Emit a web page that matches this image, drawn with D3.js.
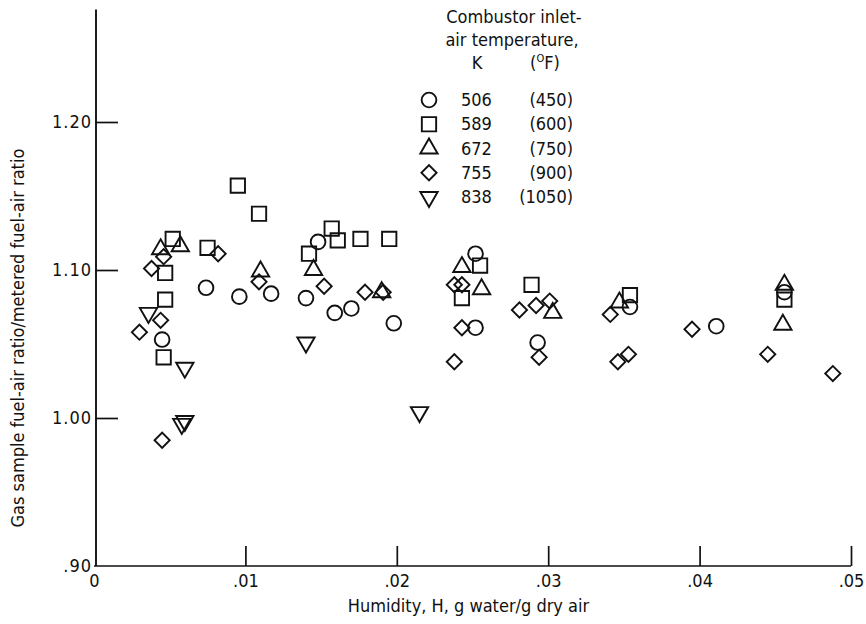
<!DOCTYPE html>
<html><head><meta charset="utf-8">
<script src="https://cdn.jsdelivr.net/npm/d3@7"></script>
<style>
html,body{margin:0;padding:0;background:#fff;}
text{font-family:'Liberation Sans Narrow','DejaVu Sans Condensed','Arial Narrow',sans-serif;fill:#111;}
</style></head>
<body><svg id="c" width="866" height="624"></svg>
<script>
// ---- data ----
const xTicks = [0, 0.01, 0.02, 0.03, 0.04, 0.05];
const xTickLabels = ["0", ".01", ".02", ".03", ".04", ".05"];
const yTicks = [0.90, 1.00, 1.10, 1.20];
const yTickLabels = [".90", "1.00", "1.10", "1.20"];
const seriesK = ["506", "589", "672", "755", "838"];
const seriesF = ["(450)", "(600)", "(750)", "(900)", "(1050)"];
const seriesShape = ["circle", "square", "triangleUp", "diamond", "triangleDown"];

const s506 = [[0.0074,1.088],[0.0096,1.082],[0.0117,1.084],[0.0045,1.053],[0.0148,1.119],[0.0140,1.081],
  [0.0170,1.074],[0.0159,1.071],[0.0198,1.064],[0.0252,1.111],[0.0252,1.061],[0.0293,1.051],[0.0354,1.075],
  [0.0411,1.062],[0.0456,1.085]];
const s589 = [[0.0095,1.157],[0.0109,1.138],[0.0052,1.121],[0.0075,1.115],[0.0047,1.098],[0.0047,1.080],
  [0.0046,1.041],[0.0157,1.128],[0.0161,1.120],[0.0176,1.121],[0.0195,1.121],[0.0142,1.111],[0.0255,1.103],
  [0.0243,1.081],[0.0289,1.090],[0.0354,1.083],[0.0456,1.080]];
const s672 = [[0.0057,1.116],[0.0044,1.114],[0.0110,1.099],[0.0145,1.100],[0.0190,1.085],[0.0243,1.102],
  [0.0256,1.087],[0.0303,1.071],[0.0347,1.078],[0.0456,1.090],[0.0455,1.063]];
const s755 = [[0.0046,1.109],[0.0082,1.111],[0.0038,1.101],[0.0109,1.092],[0.0044,1.066],[0.0030,1.058],
  [0.0045,0.985],[0.0152,1.089],[0.0179,1.085],[0.0191,1.085],[0.0238,1.090],[0.0243,1.090],[0.0243,1.061],
  [0.0238,1.038],[0.0281,1.073],[0.0292,1.076],[0.0301,1.079],[0.0294,1.041],[0.0341,1.070],[0.0346,1.038],
  [0.0353,1.043],[0.0395,1.060],[0.0445,1.043],[0.0488,1.030]];
const s838 = [[0.0036,1.071],[0.0060,1.034],[0.0058,0.996],[0.0060,0.998],[0.0140,1.051],[0.0215,1.004]];
const seriesData = [s506, s589, s672, s755, s838];

const xLabel = "Humidity, H, g water/g dry air";
const yLabel = "Gas sample fuel-air ratio/metered fuel-air ratio";
const yAxisTop = 1.276;

// ---- drawing ----
const svg = d3.select("#c");
const x = d3.scaleLinear().domain([0, 0.05]).range([94, 851]);
const y = d3.scaleLinear().domain([0.90, 1.20]).range([566, 122]);
const ink = "#111";
const sw = 1.9;

function shapePath(shape) {
  if (shape === "circle") return d3.symbol(d3.symbolCircle, 170)();
  if (shape === "square") return d3.symbol(d3.symbolSquare, 205)();
  if (shape === "diamond") return d3.symbol(d3.symbolSquare, 115)();
  return d3.symbol(d3.symbolTriangle, 130)();
}
function shapeRot(shape) {
  if (shape === "diamond") return 45;
  if (shape === "triangleDown") return 180;
  return 0;
}

// axes
const g = svg.append("g");
g.append("line").attr("x1", x(0)).attr("x2", x(0.05)).attr("y1", y(0.9)).attr("y2", y(0.9))
  .attr("stroke", ink).attr("stroke-width", 1.7);
g.append("line").attr("x1", x(0)+2).attr("x2", x(0)+2).attr("y1", y(0.9)).attr("y2", y(yAxisTop))
  .attr("stroke", ink).attr("stroke-width", 1.9);

const xAxis = d3.axisBottom(x).tickValues(xTicks).tickFormat((d,i)=>xTickLabels[i]).tickSize(-20).tickPadding(7);
const xg = svg.append("g").attr("transform", `translate(0,${y(0.9)})`).call(xAxis);
xg.select(".domain").remove();
xg.selectAll(".tick line").attr("stroke", ink).attr("stroke-width", 1.7).filter(d=>d===0).remove();
xg.selectAll(".tick text").attr("font-size", 18).attr("font-family", null).attr("dy", "0.75em");

const yAxis = d3.axisLeft(y).tickValues(yTicks).tickFormat((d,i)=>yTickLabels[i]).tickSize(-22).tickPadding(4);
const yg = svg.append("g").attr("transform", `translate(${x(0)+2},0)`).call(yAxis);
yg.select(".domain").remove();
yg.selectAll(".tick line").attr("stroke", ink).attr("stroke-width", 1.7).filter(d=>d===0.9).remove();
yg.selectAll(".tick text").attr("font-size", 18).attr("font-family", null).attr("letter-spacing", 1);

// axis titles
svg.append("text").attr("x", (x(0)+x(0.05))/2 - 4).attr("y", 612).attr("text-anchor", "middle")
  .attr("font-size", 18).text(xLabel);
svg.append("text").attr("transform", `translate(24,${y(1.054)}) rotate(-90)`).attr("text-anchor", "middle")
  .attr("font-size", 18).text(yLabel);

// points
seriesData.forEach((data, si) => {
  const shape = seriesShape[si];
  svg.append("g").selectAll("path").data(data).enter().append("path")
    .attr("d", shapePath(shape))
    .attr("transform", d => `translate(${x(d[0])},${y(d[1])}) rotate(${shapeRot(shape)})`)
    .attr("fill", "none").attr("stroke", ink).attr("stroke-width", sw);
});

// legend
const lg = svg.append("g");
lg.append("text").attr("x", 514).attr("y", 23).attr("text-anchor", "middle").attr("font-size", 18).text("Combustor inlet-");
lg.append("text").attr("x", 512).attr("y", 46).attr("text-anchor", "middle").attr("font-size", 18).text("air temperature,");
lg.append("text").attr("x", 477).attr("y", 69).attr("text-anchor", "middle").attr("font-size", 18).text("K");
const ft = lg.append("text").attr("x", 545).attr("y", 69).attr("text-anchor", "middle").attr("font-size", 18);
ft.append("tspan").text("(");
ft.append("tspan").attr("font-size", 11).attr("dy", -7).text("O");
ft.append("tspan").attr("dy", 7).text("F)");

const legendY = d3.scalePoint().domain(seriesK).range([100, 197]);
seriesK.forEach((k, i) => {
  const yy = legendY(k);
  lg.append("path").attr("d", shapePath(seriesShape[i]))
    .attr("transform", `translate(429,${yy}) rotate(${shapeRot(seriesShape[i])})`)
    .attr("fill", "none").attr("stroke", ink).attr("stroke-width", sw);
  lg.append("text").attr("x", 461).attr("y", yy + 6).attr("font-size", 18).text(k);
  lg.append("text").attr("x", 573).attr("y", yy + 6).attr("text-anchor", "end").attr("font-size", 18).text(seriesF[i]);
});
</script></body></html>
